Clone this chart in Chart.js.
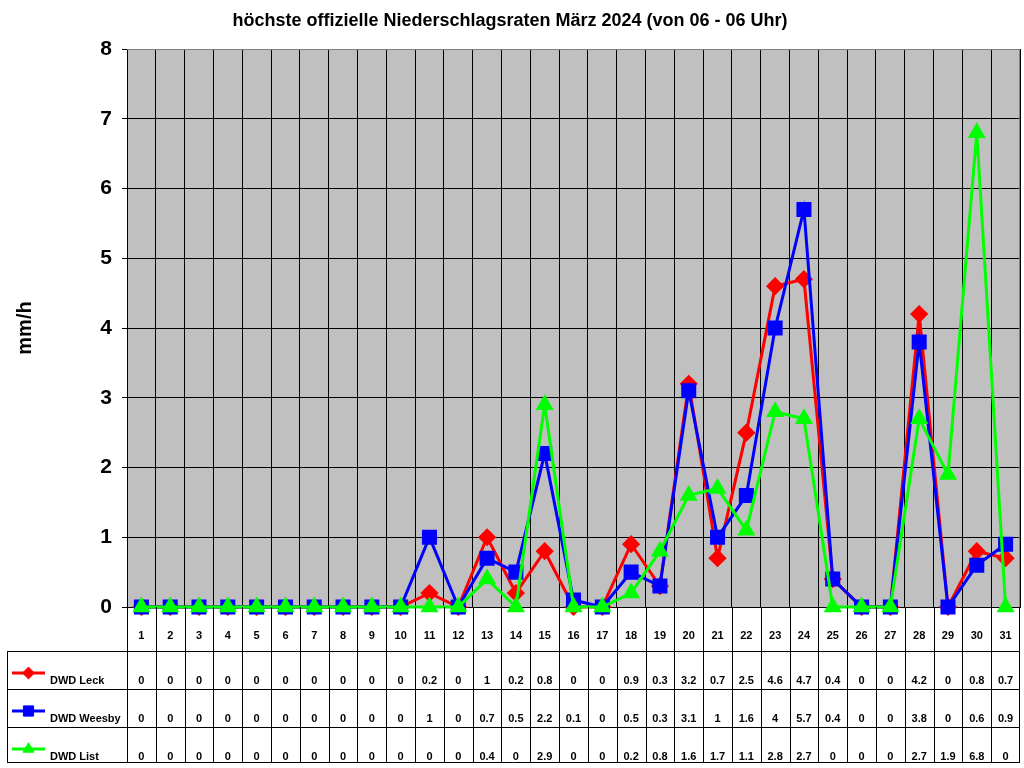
<!DOCTYPE html>
<html>
<head>
<meta charset="utf-8">
<script src="https://cdn.jsdelivr.net/npm/chart.js@4"></script>
<style>
  body { margin: 0; background: #fff; }
</style>
</head>
<body>
<canvas id="grafico" width="1024" height="768"></canvas>
<script>
// Daten
const tage = ['1','2','3','4','5','6','7','8','9','10','11','12','13','14','15','16','17','18','19','20','21','22','23','24','25','26','27','28','29','30','31'];
const leck   = [0,0,0,0,0,0,0,0,0,0,0.2,0,1,0.2,0.8,0,0,0.9,0.3,3.2,0.7,2.5,4.6,4.7,0.4,0,0,4.2,0,0.8,0.7];
const weesby = [0,0,0,0,0,0,0,0,0,0,1,0,0.7,0.5,2.2,0.1,0,0.5,0.3,3.1,1,1.6,4,5.7,0.4,0,0,3.8,0,0.6,0.9];
const list   = [0,0,0,0,0,0,0,0,0,0,0,0,0.4,0,2.9,0,0,0.2,0.8,1.6,1.7,1.1,2.8,2.7,0,0,0,2.7,1.9,6.8,0];
const yTicks = [0,1,2,3,4,5,6,7,8];

const reihen = [
  { name: 'DWD Leck',   werte: leck,   farbe: '#ff0000', punkt: 'rectRot',  radius: 7 },
  { name: 'DWD Weesby', werte: weesby, farbe: '#0000ff', punkt: 'rect',     radius: 8.5 },
  { name: 'DWD List',   werte: list,   farbe: '#00ff00', punkt: 'triangle', radius: 7.5 }
];

const SCHRIFT = 'Arial, "Liberation Sans", sans-serif';

// Hintergrund grau im Plotbereich, Rahmen oben/rechts grau
const hintergrund = {
  id: 'hintergrund',
  beforeDraw(chart) {
    const a = chart.chartArea, ctx = chart.ctx;
    ctx.save();
    ctx.fillStyle = '#c0c0c0';
    ctx.fillRect(a.left, a.top, a.right - a.left, a.bottom - a.top);
    ctx.restore();
  },
  beforeDatasetsDraw(chart) {
    const a = chart.chartArea, ctx = chart.ctx;
    const oben = Math.round(a.top) + 0.5, rechts = Math.round(a.right) - 0.5;
    ctx.save();
    ctx.strokeStyle = '#808080';
    ctx.lineWidth = 1;
    ctx.beginPath();
    ctx.moveTo(a.left, oben);
    ctx.lineTo(rechts, oben);
    ctx.lineTo(rechts, a.bottom);
    ctx.stroke();
    ctx.restore();
  }
};

// Datentabelle unter dem Diagramm
const tabelle = {
  id: 'tabelle',
  afterDraw(chart) {
    const ctx = chart.ctx, a = chart.chartArea, x = chart.scales.x;
    const breite = (a.right - a.left) / tage.length;
    const tabLinks = 7, zeilen = [651, 689, 727, 762];
    ctx.save();
    ctx.strokeStyle = '#000';
    ctx.lineWidth = 1;
    ctx.beginPath();
    // senkrechte Linien
    for (let i = 0; i <= tage.length; i++) {
      let px = Math.round(a.left + i * breite) + 0.5;
      if (i === tage.length) px -= 1;
      ctx.moveTo(px, a.bottom);
      ctx.lineTo(px, zeilen[3]);
    }
    ctx.moveTo(tabLinks + 0.5, zeilen[0]);
    ctx.lineTo(tabLinks + 0.5, zeilen[3]);
    // waagerechte Linien
    zeilen.forEach(y => {
      ctx.moveTo(tabLinks, y + 0.5);
      ctx.lineTo(a.right, y + 0.5);
    });
    ctx.stroke();

    ctx.fillStyle = '#000';
    ctx.textAlign = 'center';
    ctx.textBaseline = 'middle';
    ctx.font = 'bold 11px ' + SCHRIFT;
    tage.forEach((t, i) => ctx.fillText(t, x.getPixelForValue(i), 636));

    reihen.forEach((r, k) => {
      const yText = zeilen[k] + 30;
      ctx.fillStyle = '#000';
      r.werte.forEach((v, i) => {
        ctx.fillText(String(v), x.getPixelForValue(i), yText);
      });
      // Legende
      ctx.strokeStyle = r.farbe;
      ctx.lineWidth = 3;
      ctx.beginPath();
      ctx.moveTo(12, yText - 8);
      ctx.lineTo(45, yText - 8);
      ctx.stroke();
      ctx.fillStyle = r.farbe;
      ctx.lineWidth = 1;
      Chart.helpers.drawPoint(ctx, {
        pointStyle: r.punkt, radius: r.radius * 0.85, borderWidth: 1, rotation: 0
      }, 28.5, yText - 8);
      ctx.fillStyle = '#000';
      ctx.textAlign = 'left';
      ctx.fillText(r.name, 50, yText);
      ctx.textAlign = 'center';
    });
    ctx.restore();
  }
};

new Chart(document.getElementById('grafico'), {
  type: 'line',
  data: {
    labels: tage,
    datasets: reihen.map((r, k) => ({
      label: r.name,
      data: r.werte,
      borderColor: r.farbe,
      backgroundColor: r.farbe,
      pointBackgroundColor: r.farbe,
      pointBorderColor: r.farbe,
      pointStyle: r.punkt,
      pointRadius: r.radius,
      pointHoverRadius: r.radius,
      borderWidth: 3,
      tension: 0,
      clip: false,
      order: 3 - k
    }))
  },
  options: {
    responsive: false,
    devicePixelRatio: 1,
    animation: false,
    layout: { autoPadding: false, padding: { left: 0, right: 4, top: 0, bottom: 0 } },
    plugins: {
      legend: { display: false },
      tooltip: { enabled: false },
      title: {
        display: true,
        text: 'höchste offizielle Niederschlagsraten März 2024 (von 06 - 06 Uhr)',
        color: '#000',
        font: { family: SCHRIFT, size: 18, weight: 'bold', lineHeight: '20px' },
        padding: { top: 11, bottom: 18 }
      }
    },
    scales: {
      x: {
        type: 'category',
        offset: true,
        grid: {
          offset: true,
          color: ctx => (ctx.index === tage.length ? 'rgba(0,0,0,0)' : '#000'),
          lineWidth: 1,
          drawTicks: false
        },
        border: { display: true, color: '#000', width: 1 },
        ticks: { display: false },
        afterFit(scale) { scale.height = 161; }
      },
      y: {
        min: yTicks[0],
        max: yTicks[yTicks.length - 1],
        afterBuildTicks(scale) { scale.ticks = yTicks.map(v => ({ value: v })); },
        grid: {
          color: ctx => (ctx.index === yTicks.length - 1 ? 'rgba(0,0,0,0)' : '#000'),
          lineWidth: 1,
          drawTicks: true,
          tickLength: 5,
          tickColor: '#000'
        },
        border: { display: true, color: '#000', width: 1 },
        ticks: {
          color: '#000',
          padding: 10,
          font: { family: SCHRIFT, size: 21, weight: 'bold' }
        },
        title: {
          display: true,
          text: 'mm/h',
          color: '#000',
          font: { family: SCHRIFT, size: 20, weight: 'bold' },
          padding: { top: 13, bottom: 0 }
        },
        afterFit(scale) { scale.width = 127; }
      }
    }
  },
  plugins: [hintergrund, tabelle]
});
</script>
</body>
</html>
